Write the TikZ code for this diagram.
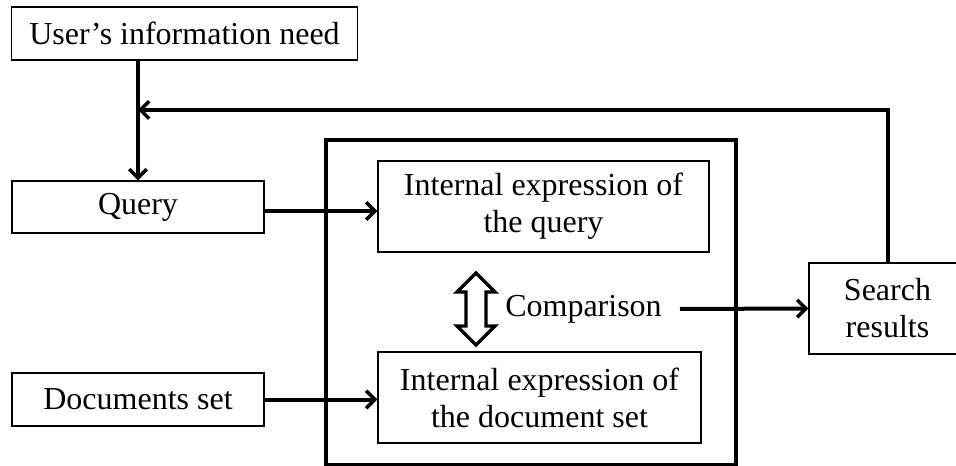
\documentclass[tikz,border=0pt]{standalone}
\usepackage{fontspec}
\setmainfont{Liberation Serif}
\usetikzlibrary{arrows.meta}
\tikzset{
  box/.style={draw, line width=1.1pt, rectangle, inner sep=0pt, align=center,
    font=\fontsize{24}{27.75}\selectfont},
  flow/.style={line width=3pt, -{Straight Barb[length=6.5pt,width=13pt,line width=2.6pt]}},
  frame/.style={line width=3pt},
  label/.style={inner sep=0pt, font=\fontsize{24}{27.75}\selectfont}
}
\begin{document}
\begin{tikzpicture}[x=0.75pt, y=-0.75pt]
  \useasboundingbox (0,0) rectangle (956,466);

  % outer frame around the internal representations
  \draw[frame] (326,140) rectangle (736,465);

  % boxes
  \node[box, minimum width=259.5pt, minimum height=39.75pt] (need) at (184.5,33.5) {User’s information need};
  \node[box, minimum width=189pt, minimum height=39pt] (query) at (138,207) {Query};
  \node[box, minimum width=189pt, minimum height=39.75pt] (docs) at (138,399.5) {Documents set};
  \node[box, minimum width=248.25pt, minimum height=68.25pt] (iq) at (543.5,206.5) {Internal expression of\\the query};
  \node[box, minimum width=242.25pt, minimum height=68.25pt] (id) at (539.5,397.5) {Internal expression of\\the document set};
  \node[box, minimum width=117.75pt, minimum height=68.25pt] (sr) at (887.5,308.5) {Search\\results};
  \node[label] (cmp) at (583.5,309) {Comparison};

  % two-headed comparison arrow
  \draw[line width=2.6pt, line join=miter]
    (476,273) -- (495,292) -- (486,292) -- (486,326) -- (495,326) -- (476,345)
    -- (457,326) -- (466,326) -- (466,292) -- (457,292) -- cycle;

  % connectors
  \coordinate (fb) at (138,110);
  \draw[flow] (need.south -| query.north) -- (query.north);
  \draw[flow] (sr.north) |- (fb);
  \draw[flow] ([yshift=-3pt]query.east) -- ([yshift=-3pt]query.east -| iq.west);
  \draw[flow] (docs.east) -- (docs.east -| id.west);
  \draw[flow] ([xshift=13.5pt]cmp.east) -- (sr.west);
\end{tikzpicture}
\end{document}
